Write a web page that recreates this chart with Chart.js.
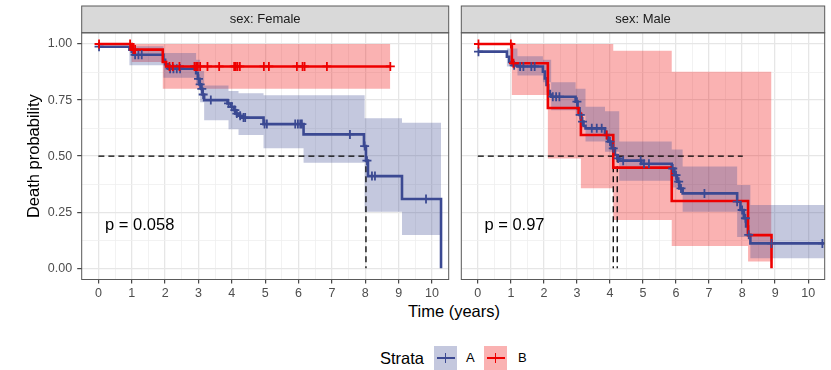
<!DOCTYPE html>
<html>
<head>
<meta charset="utf-8">
<script src="https://cdn.jsdelivr.net/npm/chart.js@4.4.1/dist/chart.umd.min.js"></script>
<style>
  html, body { margin: 0; padding: 0; background: #fff; width: 831px; height: 370px; overflow: hidden;
    font-family: 'Liberation Sans', Arial, sans-serif; }
  canvas { position: absolute; top: 0; }
  #cF { left: 0; }
  #cM { left: 455px; }
  .txt { position: absolute; white-space: nowrap; color: #000; line-height: 20px; }
  .key { position: absolute; top: 346px; width: 23px; height: 24px; }
  .key .h { position: absolute; left: 3px; right: 2px; top: 10.5px; height: 2.6px; }
  .key .v { position: absolute; left: 10.5px; width: 1.8px; top: 7px; height: 10px; }
</style>
</head>
<body>
<canvas id="cF" width="455" height="300"></canvas>
<canvas id="cM" width="376" height="300"></canvas>

<div class="txt" style="left:354px;width:200px;text-align:center;top:301px;font-size:16.5px">Time (years)</div>

<div class="txt" style="left:380px;top:348px;font-size:16.5px">Strata</div>
<div class="key" style="left:434px;background:rgba(59,73,146,0.3)"><div class="h" style="background:#3B4992"></div><div class="v" style="background:#3B4992"></div></div>
<div class="txt" style="left:466px;top:348px;font-size:13px">A</div>
<div class="key" style="left:484px;background:rgba(238,0,0,0.3)"><div class="h" style="background:#EE0000"></div><div class="v" style="background:#EE0000"></div></div>
<div class="txt" style="left:518px;top:348px;font-size:13px">B</div>

<script>
// ---- data ----
const panels = ['sex: Female', 'sex: Male'];
const pValues = ['p = 0.058', 'p = 0.97'];
const xTicks = [0, 1, 2, 3, 4, 5, 6, 7, 8, 9, 10];
const yTicks = [0, 0.25, 0.5, 0.75, 1];

// Female, strata A
const femaleA_time = [0, 0.93, 1.0, 1.05, 1.95, 2.0, 2.1, 2.93, 2.98, 3.03, 3.08, 3.12, 3.17, 3.87, 3.97, 4.07, 4.12, 4.2, 4.3, 4.95, 6.15, 7.96, 8.02, 8.08, 9.1, 10.27];
const femaleA_surv = [0.988, 0.975, 0.965, 0.952, 0.93, 0.91, 0.89, 0.87, 0.845, 0.82, 0.80, 0.775, 0.75, 0.735, 0.72, 0.705, 0.69, 0.68, 0.672, 0.643, 0.597, 0.545, 0.48, 0.411, 0.309, 0];
const femaleA_censor = [0.02, 1.1, 1.2, 1.3, 2.15, 2.25, 2.35, 2.45, 3.0, 3.05, 3.1, 3.14, 3.37, 3.9, 4.0, 4.09, 4.15, 4.25, 4.35, 4.4, 4.98, 5.05, 5.9, 5.98, 6.05, 6.1, 7.54, 7.98, 8.05, 8.2, 8.29, 9.82];
const femaleA_ciTime = [0, 0.93, 1.95, 2.93, 3.05, 3.17, 3.9, 4.2, 4.95, 6.15, 7.98, 9.1, 10.27];
const femaleA_ciUpper = [0.988, 0.99, 0.96, 0.93, 0.88, 0.815, 0.79, 0.78, 0.772, 0.772, 0.669, 0.649, 0.649];
const femaleA_ciLower = [0.988, 0.905, 0.85, 0.82, 0.74, 0.66, 0.62, 0.594, 0.535, 0.471, 0.252, 0.148, 0.148];

// Female, strata B
const femaleB_time = [0, 1.0, 1.93, 2.03, 8.75];
const femaleB_surv = [1.0, 0.975, 0.92, 0.90, 0.90];
const femaleB_censor = [0.02, 0.95, 1.05, 1.1, 2.13, 2.23, 2.43, 2.88, 2.93, 2.98, 3.05, 3.27, 3.62, 4.07, 4.12, 4.17, 4.24, 4.96, 5.11, 5.95, 6.12, 6.18, 6.85, 8.75];
const femaleB_ciTime = [0, 1.0, 1.93, 8.75];
const femaleB_ciUpper = [1, 1, 1, 1];
const femaleB_ciLower = [1, 0.92, 0.80, 0.80];

// Male, strata A
const maleA_time = [0, 0.88, 0.95, 1.05, 1.2, 1.97, 2.03, 2.08, 2.13, 2.18, 2.22, 2.96, 3.02, 3.08, 3.14, 3.2, 3.26, 3.85, 3.95, 4.05, 4.15, 4.22, 4.28, 4.95, 5.87, 5.95, 6.03, 6.1, 6.2, 7.85, 7.95, 8.05, 8.12, 8.18, 8.25, 10.48];
const maleA_surv = [0.966, 0.943, 0.92, 0.905, 0.90, 0.877, 0.847, 0.817, 0.79, 0.775, 0.765, 0.743, 0.713, 0.684, 0.654, 0.635, 0.624, 0.594, 0.565, 0.535, 0.505, 0.49, 0.48, 0.466, 0.445, 0.415, 0.386, 0.356, 0.334, 0.297, 0.26, 0.223, 0.186, 0.149, 0.111, 0.111];
const maleA_censor = [0.02, 1.1, 1.28, 1.38, 1.62, 1.72, 2.27, 2.37, 2.47, 3.0, 3.1, 3.17, 3.45, 3.6, 3.75, 3.9, 4.0, 4.1, 4.25, 4.4, 4.93, 5.03, 5.18, 5.9, 6.0, 6.08, 6.15, 6.86, 7.85, 8.0, 8.1, 8.2, 8.89, 10.43];
const maleA_ciTime = [0, 0.88, 1.2, 1.97, 2.22, 2.96, 3.26, 3.85, 4.28, 5.87, 6.2, 7.85, 8.25, 10.48];
const maleA_ciUpper = [0.966, 0.98, 0.945, 0.93, 0.83, 0.80, 0.72, 0.70, 0.565, 0.53, 0.454, 0.371, 0.282, 0.282];
const maleA_ciLower = [0.966, 0.90, 0.86, 0.83, 0.705, 0.68, 0.565, 0.52, 0.39, 0.36, 0.252, 0.14, 0.045, 0.045];

// Male, strata B
const maleB_time = [0, 1.03, 2.12, 3.05, 3.12, 4.1, 5.87, 8.18, 8.89];
const maleB_surv = [1.0, 0.914, 0.715, 0.69, 0.594, 0.449, 0.30, 0.148, 0];
const maleB_censor = [0.02, 1.0, 1.08, 3.9];
const maleB_ciTime = [0, 1.03, 2.12, 3.12, 4.1, 5.87, 8.18, 8.89];
const maleB_ciUpper = [1, 1, 1, 1, 0.97, 0.876, 0.876, 0.876];
const maleB_ciLower = [1, 0.773, 0.49, 0.357, 0.215, 0.099, 0.03, 0.03];

// median survival (surv = 0.5) lines
const medianLevel = 0.5;
const medianLineEnd = 8.02;
const femaleMedians = [8.02];
const maleMedians = [4.22, 4.1];

// ---- styling ----
const FONT = "'Liberation Sans', Arial, sans-serif";
const BLUE = '#3B4992', RED = '#EE0000';
const BLUE_BAND = 'rgba(59,73,146,0.3)', RED_BAND = 'rgba(238,0,0,0.3)';
const CLEAR = 'rgba(0,0,0,0)';
const STEP = 'before'; // Kaplan-Meier: hold value until next time, then drop

Chart.defaults.font.family = FONT;

function pts(ts, vs) { return ts.map((t, i) => ({ x: t, y: vs[i] })); }
function survAt(ts, vs, t) {
  let s = vs[0];
  for (let i = 0; i < ts.length; i++) if (ts[i] <= t) s = vs[i];
  return s;
}

// half-step grid positions between the labelled ticks
function gridVals(major, lo, hi) {
  const out = [lo];
  for (let i = 0; i < major.length; i++) {
    out.push(major[i]);
    if (i < major.length - 1) out.push((major[i] + major[i + 1]) / 2);
  }
  out.push(hi);
  return out;
}
const xGrid = gridVals(xTicks, -0.5, 10.5);
const yGrid = gridVals(yTicks, -0.125, 1.125).filter(v => v >= -0.05 && v <= 1.05);

function isMajor(list, v) { return list.some(m => Math.abs(m - v) < 1e-9); }

function buildDatasets(s) {
  const ds = [];
  const line = (data, color, order) => ({ data, stepped: STEP, borderColor: color, borderWidth: 2.6,
    pointRadius: 0, fill: false, order });
  const cens = (ts, tt, ss, color) => ({ data: ts.map(t => ({ x: t, y: survAt(tt, ss, t) })), showLine: false,
    pointStyle: 'cross', pointRadius: 4.5, pointBorderWidth: 1.8, borderColor: color, pointBorderColor: color,
    backgroundColor: color, order: 0 });
  ds.push(cens(s.bCens, s.bTime, s.bSurv, RED));
  ds.push(cens(s.aCens, s.aTime, s.aSurv, BLUE));
  ds.push(line(pts(s.bTime, s.bSurv), RED, 1));
  ds.push(line(pts(s.aTime, s.aSurv), BLUE, 2));
  const dash = data => ({ data, borderColor: '#000', borderWidth: 1.3, borderDash: [6, 4], pointRadius: 0,
    fill: false, order: 3 });
  ds.push(dash([{ x: 0, y: medianLevel }, { x: medianLineEnd, y: medianLevel }]));
  s.medians.forEach(m => ds.push(dash([{ x: m, y: medianLevel }, { x: m, y: 0 }])));
  const band = (tt, up, lo, color) => {
    const iu = ds.length;
    ds.push({ data: pts(tt, up), stepped: STEP, borderWidth: 0, borderColor: CLEAR, pointRadius: 0,
      fill: false, order: 5 });
    ds.push({ data: pts(tt, lo), stepped: STEP, borderWidth: 0, borderColor: CLEAR, pointRadius: 0,
      fill: iu, backgroundColor: color, order: 5 });
  };
  band(s.aCiT, s.aCiU, s.aCiL, BLUE_BAND);
  band(s.bCiT, s.bCiU, s.bCiL, RED_BAND);
  return ds;
}

const stripPlugin = {
  id: 'strip',
  afterDraw(chart, args, o) {
    const { ctx, chartArea: a } = chart;
    ctx.save();
    ctx.fillStyle = '#D9D9D9';
    ctx.fillRect(a.left, 6, a.right - a.left, a.top - 6);
    ctx.strokeStyle = '#5a5a5a';
    ctx.lineWidth = 1;
    ctx.strokeRect(a.left, 6, a.right - a.left, a.top - 6);
    ctx.strokeRect(a.left, a.top, a.right - a.left, a.bottom - a.top);
    ctx.fillStyle = '#1A1A1A';
    ctx.font = '13px ' + FONT;
    ctx.textAlign = 'center';
    ctx.textBaseline = 'middle';
    ctx.fillText(o.text, (a.left + a.right) / 2, (6 + a.top) / 2 + 0.5);
    ctx.fillStyle = '#000';
    ctx.font = '16.5px ' + FONT;
    ctx.textAlign = 'left';
    ctx.fillText(o.pText, chart.scales.x.getPixelForValue(o.pX), chart.scales.y.getPixelForValue(o.pY));
    ctx.restore();
  }
};

function makeChart(id, s, first) {
  const gridColor = list => c => (c.tick && isMajor(list, c.tick.value)) ? '#E6E6E6' : '#EFEFEF';
  const gridWidth = list => c => (c.tick && isMajor(list, c.tick.value)) ? 1.3 : 0.8;
  const tickColor = list => c => (c.tick && isMajor(list, c.tick.value)) ? '#333333' : CLEAR;
  return new Chart(document.getElementById(id), {
    type: 'line',
    data: { datasets: buildDatasets(s) },
    options: {
      responsive: false, animation: false, events: [], devicePixelRatio: 1,
      layout: { padding: { top: 32.8, right: first ? 3.3 : 1.5, left: 0, bottom: 0 } },
      plugins: { legend: { display: false }, tooltip: { enabled: false },
        strip: { text: s.title, pText: s.pText, pX: 0.2, pY: 0.19 } },
      scales: {
        x: {
          type: 'linear', min: -0.5, max: 10.5,
          afterBuildTicks: sc => { sc.ticks = xGrid.map(v => ({ value: v })); },
          afterFit: sc => { sc.height = 20.5; },
          ticks: { autoSkip: false, maxRotation: 0, padding: 3, color: '#4D4D4D', font: { size: 12.5 },
            callback: v => isMajor(xTicks, v) ? String(Math.round(v)) : '' },
          grid: { color: gridColor(xTicks), lineWidth: gridWidth(xTicks), tickColor: tickColor(xTicks),
            tickLength: 4, tickWidth: 1.1 },
          border: { display: false }
        },
        y: {
          type: 'linear', min: -0.05, max: 1.05,
          afterBuildTicks: sc => { sc.ticks = yGrid.map(v => ({ value: v })); },
          afterFit: sc => { sc.width = first ? 81.7 : 5; },
          ticks: { display: first, autoSkip: false, padding: 5, color: '#4D4D4D', font: { size: 12.5 },
            callback: v => isMajor(yTicks, v) ? v.toFixed(2) : '' },
          grid: { color: gridColor(yTicks), lineWidth: gridWidth(yTicks), tickColor: tickColor(yTicks),
            tickLength: 4.5, tickWidth: 1.1, drawTicks: first },
          border: { display: false },
          title: { display: first, text: 'Death probability', color: '#000', font: { size: 16.5 },
            padding: { top: 25, bottom: 0 } }
        }
      }
    },
    plugins: [stripPlugin]
  });
}

makeChart('cF', {
  title: panels[0], pText: pValues[0], medians: femaleMedians,
  aTime: femaleA_time, aSurv: femaleA_surv, aCens: femaleA_censor,
  aCiT: femaleA_ciTime, aCiU: femaleA_ciUpper, aCiL: femaleA_ciLower,
  bTime: femaleB_time, bSurv: femaleB_surv, bCens: femaleB_censor,
  bCiT: femaleB_ciTime, bCiU: femaleB_ciUpper, bCiL: femaleB_ciLower
}, true);

makeChart('cM', {
  title: panels[1], pText: pValues[1], medians: maleMedians,
  aTime: maleA_time, aSurv: maleA_surv, aCens: maleA_censor,
  aCiT: maleA_ciTime, aCiU: maleA_ciUpper, aCiL: maleA_ciLower,
  bTime: maleB_time, bSurv: maleB_surv, bCens: maleB_censor,
  bCiT: maleB_ciTime, bCiU: maleB_ciUpper, bCiL: maleB_ciLower
}, false);
</script>
</body>
</html>
